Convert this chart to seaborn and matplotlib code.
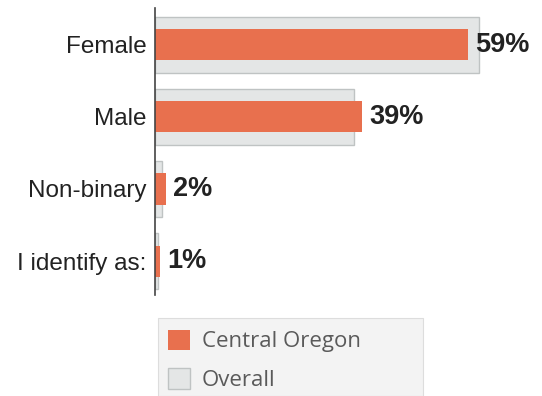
import matplotlib
matplotlib.use("Agg")
import matplotlib.pyplot as plt
from matplotlib.patches import Patch, Rectangle
import seaborn as sns
import pandas as pd

categories = ["Female", "Male", "Non-binary", "I identify as:"]
central_oregon = [59, 39, 2, 1]
overall = [61, 37.5, 1.4, 0.6]

ORANGE = "#E8704E"
GREY_FILL = "#E4E6E6"
GREY_EDGE = "#BFC3C3"

df = pd.DataFrame({
    "category": categories,
    "Central Oregon": central_oregon,
    "Overall": overall,
})

sns.set_theme(style="white")
plt.rcParams["font.family"] = ["Liberation Sans", "DejaVu Sans"]

W, H = 542, 396
fig = plt.figure(figsize=(W / 100, H / 100), dpi=100)
ax = fig.add_axes([155 / W, 1 - 295 / H, (540 - 155) / W, 287 / H])

sns.barplot(data=df, x="Overall", y="category", order=categories,
            color=GREY_FILL, edgecolor=GREY_EDGE, linewidth=1.0,
            width=0.78, saturation=1, ax=ax)
sns.barplot(data=df, x="Central Oregon", y="category", order=categories,
            color=ORANGE, edgecolor="none", linewidth=0,
            width=0.43, saturation=1, ax=ax)

ax.set_xlim(0, 72.5)
ax.set_ylim(3.47, -0.51)
ax.set_xlabel("")
ax.set_ylabel("")
ax.set_xticks([])
ax.tick_params(axis="y", length=0, pad=6, labelsize=17.5, labelcolor="#222222")

for s in ["top", "right", "bottom"]:
    ax.spines[s].set_visible(False)
ax.spines["left"].set_color("#444444")
ax.spines["left"].set_linewidth(1.2)

for i, v in enumerate(central_oregon):
    ax.text(v + 1.3, i, f"{v}%", va="center", ha="left",
            fontsize=19.5, fontweight="bold", color="#222222")

# legend panel
fig.add_artist(Rectangle((158 / W, 0), (423 - 158) / W, 1 - 318 / H,
                         transform=fig.transFigure, facecolor="#F3F3F3",
                         edgecolor="#DDDDDD", linewidth=0.8, zorder=0))

handles = [
    Patch(facecolor=ORANGE, edgecolor="none", label="Central Oregon"),
    Patch(facecolor=GREY_FILL, edgecolor=GREY_EDGE, label="Overall"),
]
leg = fig.legend(handles=handles, loc="upper left",
                 bbox_to_anchor=(152 / W, 1 - 314 / H),
                 frameon=False,
                 handlelength=1.0, handleheight=1.05, handletextpad=0.55,
                 borderpad=0.2, labelspacing=0.7,
                 prop={"family": ["Open Sans", "DejaVu Sans"], "size": 16})
for t in leg.get_texts():
    t.set_color("#5A5A5A")

fig.savefig("out.png", dpi=100)
